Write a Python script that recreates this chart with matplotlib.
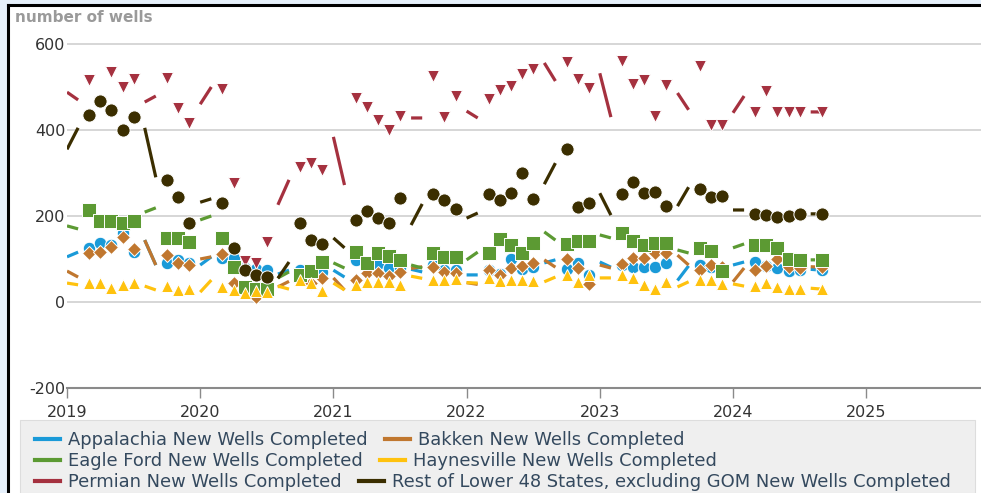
import numpy as np
import matplotlib.pyplot as plt
from matplotlib.patches import Rectangle
from matplotlib.lines import Line2D

plt.rcParams['axes.unicode_minus'] = False

# monthly new wells completed, Jan 2019 .. Sep 2024
start_year = 2019

appalachia = [105, 116, 126, 137, 133, 160, 116, 144, 86, 91, 98, 91,
              86, 105, 102, 102, 80, 76, 74, 65, 74, 74, 74, 70,
              74, 58, 98, 91, 88, 79, 79, 76, 70, 86, 74, 74,
              63, 63, 75, 65, 100, 77, 81, 91, 98, 77, 91, 63,
              93, 81, 86, 81, 81, 81, 91, 50, 84, 86, 81, 74,
              86, 93, 93, 84, 79, 72, 74, 76, 74]

bakken = [72, 58, 114, 116, 128, 151, 123, 144, 86, 109, 91, 86,
          100, 105, 112, 45, 30, 12, 30, 35, 48, 55, 45, 56,
          56, 28, 51, 67, 68, 60, 69, 78, 82, 81, 70, 67,
          45, 41, 74, 62, 80, 84, 90, 98, 81, 100, 79, 42,
          86, 79, 88, 102, 102, 114, 114, 109, 86, 74, 86, 82,
          47, 79, 74, 84, 100, 81, 79, 82, 81]

eagle_ford = [177, 170, 214, 188, 188, 184, 188, 209, 219, 149, 149, 140,
              191, 200, 150, 81, 35, 30, 30, 56, 70, 63, 72, 93,
              91, 79, 116, 91, 114, 107, 98, 86, 79, 114, 105, 105,
              98, 116, 114, 147, 133, 114, 137, 163, 144, 135, 142, 142,
              156, 149, 160, 142, 133, 137, 137, 121, 114, 126, 119, 72,
              126, 135, 133, 133, 126, 100, 98, 98, 98]

haynesville = [44, 40, 44, 44, 33, 40, 44, 37, 28, 37, 28, 30,
               23, 51, 35, 28, 21, 26, 23, 37, 30, 51, 44, 26,
               44, 28, 40, 47, 47, 47, 40, 60, 55, 51, 51, 53,
               45, 44, 55, 49, 51, 51, 50, 47, 58, 63, 47, 63,
               56, 56, 63, 56, 40, 30, 47, 35, 47, 51, 51, 42,
               42, 37, 37, 44, 35, 30, 30, 32, 30]

permian = [488, 470, 516, 465, 535, 500, 519, 465, 479, 521, 451, 416,
           460, 500, 495, 277, 95, 91, 140, 226, 284, 314, 323, 307,
           384, 272, 474, 453, 423, 400, 433, 428, 428, 526, 430, 479,
           444, 428, 472, 493, 502, 530, 542, 556, 514, 558, 519, 498,
           532, 430, 560, 507, 516, 433, 505, 486, 447, 549, 412, 412,
           440, 479, 442, 491, 442, 442, 442, 442, 442]

rest_l48 = [355, 405, 435, 467, 447, 400, 430, 405, 290, 284, 245, 184,
            232, 240, 230, 126, 74, 63, 58, 55, 93, 184, 144, 135,
            149, 126, 191, 212, 195, 184, 242, 179, 228, 251, 237, 216,
            195, 207, 251, 237, 253, 300, 240, 274, 323, 356, 221, 230,
            253, 202, 251, 279, 253, 256, 223, 223, 267, 263, 244, 246,
            214, 214, 205, 202, 198, 200, 205, 205, 205]

labels = ['Appalachia New Wells Completed',
          'Bakken New Wells Completed',
          'Eagle Ford New Wells Completed',
          'Haynesville New Wells Completed',
          'Permian New Wells Completed',
          'Rest of Lower 48 States, excluding GOM New Wells Completed']
year_ticks = [2019, 2020, 2021, 2022, 2023, 2024, 2025]
y_ticks = [-200, 0, 200, 400, 600]

colors = ['#1a9ad8', '#c0772f', '#5c9a33', '#ffc20e', '#a5313f', '#3b2e00']
markers = ['o', 'D', 's', '^', 'v', 'o']
msizes = [9, 7.5, 9.5, 9, 8.5, 9.5]

n = len(appalachia)
x = start_year + np.arange(n) / 12
moy = np.arange(n) % 12
on_line = np.isin(moy, [0, 1, 7, 8])
on_marker = ~on_line
on_marker[-1] = True

W, H = 981, 493
fig = plt.figure(figsize=(W / 100, H / 100), dpi=100)
fig.patch.set_facecolor('#e6f0fb')

# white panel with black border on left / top
fig.patches.append(Rectangle((9 / W, 0), 1, 1 - 6 / H, transform=fig.transFigure,
                             facecolor='white', edgecolor='none', zorder=-10))
fig.add_artist(Line2D([8 / W, 8 / W], [0, 1 - 5 / H], color='black', lw=2.2,
                      transform=fig.transFigure))
fig.add_artist(Line2D([8 / W, 1], [1 - 5 / H, 1 - 5 / H], color='black', lw=2.2,
                      transform=fig.transFigure))
# legend background
fig.patches.append(Rectangle((20 / W, 0), 955 / W, 73 / H, transform=fig.transFigure,
                             facecolor='#efefef', edgecolor='#dddddd', lw=0.8, zorder=-5))

y0, y1 = -200, 620
ax_bottom = 388
ax_top = 388 - (y1 - y0) * 86 / 200
ax = fig.add_axes([67 / W, (H - ax_bottom) / H, (W - 67) / W, (ax_bottom - ax_top) / H])
ax.set_facecolor('none')

datasets = [appalachia, bakken, eagle_ford, haynesville, permian, rest_l48]
for vals, c, m, ms in zip(datasets, colors, markers, msizes):
    y = np.array(vals, dtype=float)
    ax.plot(x, np.where(on_line, y, np.nan), color=c, lw=2.3, solid_capstyle='butt')
    ax.plot(x, np.where(on_marker, y, np.nan), ls='none', marker=m, ms=ms,
            mfc=c, mec='white', mew=0.7)

ax.set_xlim(2019, 2019 + (W - 67) / 133.2)
ax.set_ylim(y0, y1)
ax.set_xticks(year_ticks)
ax.set_xticklabels([str(t) for t in year_ticks])
ax.set_yticks(y_ticks)
ax.grid(axis='y', color='#d3d3d3', lw=1.3)
ax.set_axisbelow(True)
for s in ['left', 'right', 'top']:
    ax.spines[s].set_visible(False)
ax.spines['bottom'].set_color('#8a8a8a')
ax.spines['bottom'].set_linewidth(1.5)
ax.tick_params(axis='x', length=7, width=1, color='#8a8a8a', labelsize=11.5,
               labelcolor='#333333', pad=5)
ax.tick_params(axis='y', length=0, labelsize=11.5, labelcolor='#333333', pad=1)

fig.text(15 / W, 1 - 18 / H, 'number of wells', fontsize=11, fontweight='bold',
         color='#9a9a9a', va='center', ha='left')

# legend laid out as flowing rows of two items
handles = [Line2D([], [], color=c, lw=3) for c in colors]
for row in range(3):
    idx = [2 * row, 2 * row + 1]
    leg = fig.legend([handles[i] for i in idx], [labels[i] for i in idx],
                     ncol=2, loc='upper left',
                     bbox_to_anchor=(35 / W, 1 - (431 + 21 * row) / H),
                     frameon=False, fontsize=12.9, labelcolor='#34495e',
                     handlelength=1.4, handletextpad=0.45, columnspacing=0.95,
                     borderpad=0, borderaxespad=0)

fig.savefig('out.png', dpi=100, facecolor=fig.get_facecolor())
